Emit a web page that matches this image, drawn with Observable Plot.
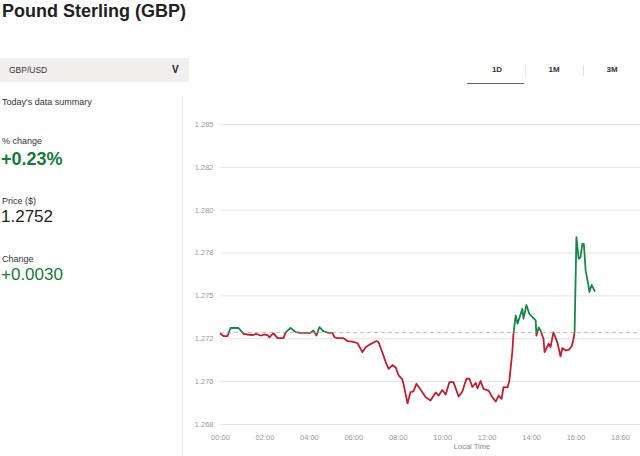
<!DOCTYPE html>
<html><head><meta charset="utf-8">
<script src="https://cdn.jsdelivr.net/npm/d3@7"></script>
<script src="https://cdn.jsdelivr.net/npm/@observablehq/plot@0.6"></script>
<style>
body{margin:0;width:640px;height:456px;overflow:hidden;background:#fff;font-family:"Liberation Sans",Arial,sans-serif;position:relative}
.a{position:absolute;white-space:nowrap;line-height:1}
#chart{position:absolute;left:183px;top:100px}
</style></head><body>
<div class="a" style="left:2px;top:2px;font-size:18px;font-weight:bold;color:#222">Pound Sterling (GBP)</div>
<div class="a" style="left:0;top:58px;width:189px;height:24px;background:#f1efed"></div>
<div class="a" style="left:9px;top:66px;font-size:8.5px;color:#333">GBP/USD</div>
<div class="a" style="left:172px;top:65px;font-size:10px;font-weight:bold;color:#222">V</div>
<div class="a" style="left:182px;top:96px;width:1px;height:360px;background:#ececec"></div>
<div class="a" style="left:2px;top:98px;font-size:9px;color:#333">Today's data summary</div>
<div class="a" style="left:2px;top:137px;font-size:9px;color:#333">% change</div>
<div class="a" style="left:1px;top:150px;font-size:18px;font-weight:bold;color:#137a3c">+0.23%</div>
<div class="a" style="left:2px;top:197px;font-size:9px;color:#333">Price ($)</div>
<div class="a" style="left:1px;top:207.6px;font-size:17px;color:#222">1.2752</div>
<div class="a" style="left:2px;top:255px;font-size:9px;color:#333">Change</div>
<div class="a" style="left:1px;top:265.6px;font-size:17px;color:#137a3c">+0.0030</div>
<div class="a" style="left:477px;top:66px;width:40px;text-align:center;font-size:8px;font-weight:bold;color:#333">1D</div>
<div class="a" style="left:534px;top:66px;width:40px;text-align:center;font-size:8px;font-weight:bold;color:#333">1M</div>
<div class="a" style="left:592px;top:66px;width:40px;text-align:center;font-size:8px;font-weight:bold;color:#333">3M</div>
<div class="a" style="left:525px;top:65px;width:1px;height:11px;background:#e2e2e2"></div>
<div class="a" style="left:583px;top:65px;width:1px;height:11px;background:#e2e2e2"></div>
<div class="a" style="left:467px;top:82.6px;width:57px;height:1.4px;background:#666"></div>
<div id="chart"></div>
<div class="a" style="left:422px;top:443.3px;width:100px;text-align:center;font-size:7.5px;color:#888">Local Time</div>
<script>
const times = ["00:00","00:08","00:19","00:27","00:41","00:49","01:02","01:13","01:26","01:37","01:48","01:59","02:07","02:12","02:23","02:34","02:50","02:56","03:09","03:23","03:36","03:52","04:03","04:11","04:19","04:27","04:38","04:52","05:02","05:08","05:16","05:32","05:43","05:56","06:10","06:23","06:32","06:45","07:01","07:07","07:17","07:26","07:34","07:44","07:53","08:01","08:11","08:14","08:25","08:33","08:41","08:49","09:00","09:14","09:27","09:41","09:49","09:59","10:08","10:18","10:29","10:43","10:53","11:04","11:12","11:20","11:29","11:34","11:42","11:50","12:04","12:14","12:23","12:31","12:39","12:44","12:55","13:00","13:08","13:11","13:17","13:22","13:35","13:38","13:46","13:54","14:05","14:11","14:13","14:19","14:24","14:32","14:35","14:46","14:51","14:59","15:10","15:18","15:23","15:32","15:40","15:48","15:53","15:56","16:01","16:07","16:12","16:17","16:21","16:26","16:34","16:36","16:42","16:50"];
const prices = [1.27279,1.27266,1.27266,1.27313,1.27314,1.27313,1.27279,1.27275,1.27272,1.27278,1.27269,1.27275,1.27272,1.27258,1.27283,1.27254,1.27254,1.27287,1.27314,1.27289,1.27285,1.27284,1.27285,1.27298,1.27269,1.27318,1.27294,1.27285,1.27285,1.27259,1.27254,1.27254,1.27236,1.27234,1.27224,1.27172,1.27201,1.27219,1.27237,1.27230,1.27170,1.27114,1.27075,1.27097,1.27083,1.27036,1.27013,1.26988,1.26873,1.26939,1.26943,1.26988,1.26954,1.26909,1.26890,1.26937,1.26919,1.26951,1.26925,1.26997,1.26997,1.26913,1.26943,1.27017,1.27018,1.26969,1.26992,1.26960,1.27004,1.26958,1.26948,1.26908,1.26884,1.26919,1.26900,1.26968,1.26966,1.27007,1.27176,1.27279,1.27386,1.27338,1.27425,1.27367,1.27447,1.27395,1.27371,1.27357,1.27269,1.27316,1.27298,1.27250,1.27172,1.27221,1.27201,1.27289,1.27225,1.27147,1.27196,1.27182,1.27185,1.27205,1.27246,1.27287,1.27843,1.27717,1.27726,1.27804,1.27804,1.27646,1.27555,1.27523,1.27564,1.27529];
const baseline = 1.27287;
const yTicks = [1.2675,1.27,1.2725,1.275,1.2775,1.28,1.2825,1.285];
const yTickLabels = ["1.268","1.270","1.272","1.275","1.278","1.280","1.282","1.285"];
const xTickLabels = ["00:00","02:00","04:00","06:00","08:00","10:00","12:00","14:00","16:00","18:00"];
const gridEndTime = "19:00";

const green = "#17874a", red = "#c41d30";
const parse = d3.utcParse("%H:%M");
const data = times.map((t, i) => ({time: parse(t), price: prices[i]}));
const xt = xTickLabels.map(parse);
const gridEnd = parse(gridEndTime);
const W = 457, H = 356;

const plot = Plot.plot({
  width: W, height: H,
  marginTop: 24, marginBottom: 32, marginLeft: 37, marginRight: 20,
  style: {fontFamily: "Liberation Sans, Arial, sans-serif", fontSize: "7.5px", color: "#999", background: "transparent", overflow: "hidden"},
  x: {type: "utc", domain: [xt[0], xt[xt.length - 1]], ticks: xt, tickFormat: d => xTickLabels[xt.findIndex(v => +v === +d)], tickSize: 0, tickPadding: 10, label: null},
  y: {domain: [yTicks[0], yTicks[yTicks.length - 1]], ticks: yTicks, tickFormat: d => yTickLabels[yTicks.indexOf(d)], tickSize: 0, tickPadding: 7, label: null},
  marks: [
    Plot.ruleY(yTicks, {x1: xt[0], x2: gridEnd, stroke: "#e4e4e4", strokeWidth: 1}),
    Plot.ruleY([baseline], {x1: xt[0], x2: gridEnd, stroke: "#c2c2c2", strokeWidth: 1, strokeDasharray: "4,3"}),
    Plot.line(data, {x: "time", y: "price", stroke: green, strokeWidth: 1.8}),
    Plot.line(data, {x: "time", y: "price", stroke: red, strokeWidth: 1.8})
  ]
});

const yb = plot.scale("y").apply(baseline);
const ns = "http://www.w3.org/2000/svg";
const defs = document.createElementNS(ns, "defs");
function clip(id, y, h) {
  const cp = document.createElementNS(ns, "clipPath");
  cp.setAttribute("id", id);
  const r = document.createElementNS(ns, "rect");
  r.setAttribute("x", 0); r.setAttribute("y", y);
  r.setAttribute("width", W); r.setAttribute("height", h);
  cp.appendChild(r); defs.appendChild(cp);
}
clip("clipUp", 0, yb);
clip("clipDown", yb, H - yb);
plot.insertBefore(defs, plot.firstChild);
const lines = plot.querySelectorAll('g[aria-label="line"]');
if (lines.length === 2) {
  lines[0].setAttribute("clip-path", "url(#clipUp)");
  lines[1].setAttribute("clip-path", "url(#clipDown)");
}
document.getElementById("chart").appendChild(plot);
</script>
</body></html>
